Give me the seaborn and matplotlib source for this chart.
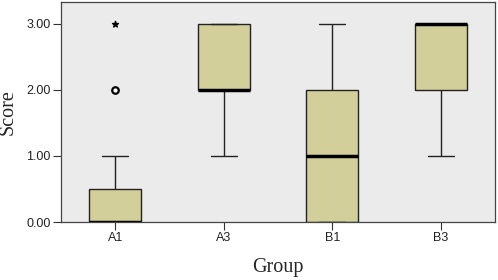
import matplotlib
matplotlib.use("Agg")
import matplotlib.pyplot as plt
import seaborn as sns
import pandas as pd

# Per-group scores (integer 0-3), chosen to reproduce the box statistics shown
groups = ["A1", "A3", "B1", "B3"]
a1_scores = [0, 0, 0, 0, 0, 0, 0, 0, 1, 2, 3]
a3_scores = [1, 2, 2, 2, 2, 3, 3, 3]
b1_scores = [0, 0, 0, 1, 1, 2, 2, 3]
b3_scores = [1, 2, 2, 3, 3, 3, 3, 3]

# Outliers (SPSS style): circle = outlier, star = extreme
outlier_groups = ["A1"]
outlier_values = [2]
extreme_groups = ["A1"]
extreme_values = [3]

y_ticks = [0.0, 1.0, 2.0, 3.0]
y_tick_labels = ["0.00", "1.00", "2.00", "3.00"]

rows = []
for g, vals in zip(groups, [a1_scores, a3_scores, b1_scores, b3_scores]):
    for v in vals:
        rows.append({"Group": g, "Score": v})
df = pd.DataFrame(rows)

sns.set_theme(style="white")
plt.rcParams["font.family"] = ["Liberation Sans", "DejaVu Sans"]

fig = plt.figure(figsize=(4.98, 2.8), dpi=100)
ax = fig.add_axes([0.1225, 0.207, 0.8715, 0.786])
ax.set_facecolor("#EBEBEB")

sns.boxplot(data=df, x="Group", y="Score", order=groups, ax=ax,
            color="#D3CF9B", saturation=1, width=0.48, whis=1.5,
            showfliers=False, linecolor="#222222", linewidth=1.0,
            medianprops=dict(color="black", linewidth=2.5),
            boxprops=dict(facecolor="#D3CF9B", edgecolor="#222222"),
            whiskerprops=dict(color="#222222"),
            capprops=dict(color="#222222"))

pos = {g: i for i, g in enumerate(groups)}
ax.scatter([pos[g] for g in outlier_groups], outlier_values, marker="o",
           s=22, facecolors="white", edgecolors="black", linewidths=1.6, zorder=5)
ax.scatter([pos[g] for g in extreme_groups], extreme_values, marker="*",
           s=20, color="black", zorder=5)

ax.set_xlim(-0.5, 3.5)
ax.set_ylim(0, 3.33)
ax.set_yticks(y_ticks)
ax.set_yticklabels(y_tick_labels)
ax.tick_params(axis="both", which="both", length=5.5, width=0.8, color="#333333",
               labelsize=9, pad=2, left=True, bottom=True, labelcolor="#222222")
for s in ax.spines.values():
    s.set_color("#444444")
    s.set_linewidth(0.9)

ax.set_xlabel("Group", family=["Liberation Serif", "DejaVu Serif"], fontsize=14.5, labelpad=10)
ax.set_ylabel("Score", family=["Liberation Serif", "DejaVu Serif"], fontsize=14.5, labelpad=6)

fig.savefig("out.png", dpi=100)
